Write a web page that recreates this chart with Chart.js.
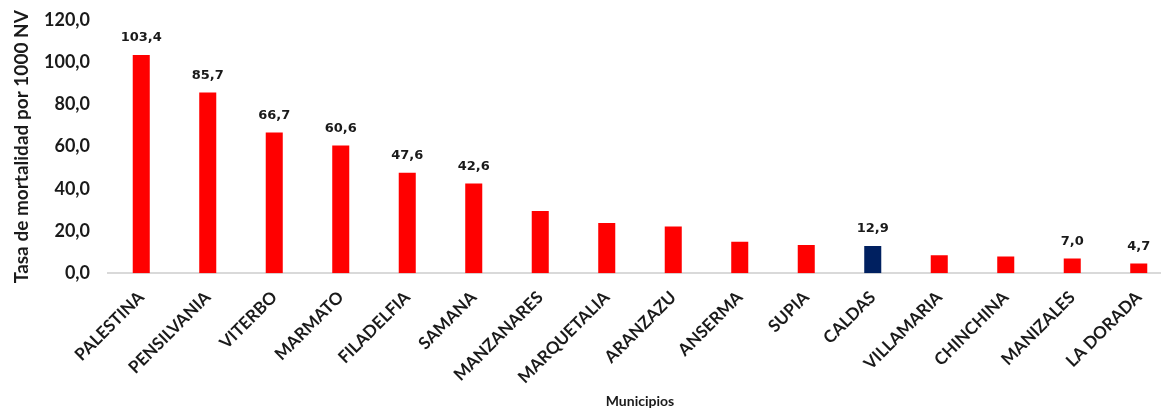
<!DOCTYPE html>
<html>
<head>
<meta charset="utf-8">
<script src="https://cdn.jsdelivr.net/npm/chart.js@4/dist/chart.umd.min.js"></script>
<style>
  html, body { margin: 0; padding: 0; background: #fff; overflow: hidden; }
  canvas { display: block; }
</style>
</head>
<body>
<canvas id="chart" width="1172" height="410"></canvas>
<script>
// Municipios y tasa de mortalidad por 1000 NV
var municipios = ['PALESTINA', 'PENSILVANIA', 'VITERBO', 'MARMATO', 'FILADELFIA', 'SAMANA',
    'MANZANARES', 'MARQUETALIA', 'ARANZAZU', 'ANSERMA', 'SUPIA', 'CALDAS',
    'VILLAMARIA', 'CHINCHINA', 'MANIZALES', 'LA DORADA'];
var tasas = [103.4, 85.7, 66.7, 60.6, 47.6, 42.6, 29.5, 23.8, 22.2, 14.9, 13.4, 12.9, 8.5, 8.0, 7.0, 4.7];
// solo algunas barras llevan etiqueta
var mostrarEtiqueta = [true, true, true, true, true, true, false, false, false, false, false, true, false, false, true, true];
var yTicks = [0, 20, 40, 60, 80, 100, 120];

function coma(v) {
    return v.toFixed(1).replace('.', ',');
}

var colores = municipios.map(function(m) {
    return m === 'CALDAS' ? '#002060' : '#ff0000';
});

var etiquetas = {
    id: 'etiquetas',
    afterDatasetsDraw: function(chart) {
        var ctx = chart.ctx;
        var meta = chart.getDatasetMeta(0);
        ctx.save();
        ctx.font = 'bold 13px "DejaVu Sans"';
        ctx.fillStyle = '#1a1a1a';
        ctx.textAlign = 'center';
        ctx.textBaseline = 'middle';
        meta.data.forEach(function(bar, i) {
            if (!mostrarEtiqueta[i]) return;
            ctx.fillText(coma(tasas[i]), bar.x, bar.y - 17);
        });
        ctx.restore();
    }
};

new Chart(document.getElementById('chart').getContext('2d'), {
    type: 'bar',
    data: {
        labels: municipios,
        datasets: [{
            data: tasas,
            backgroundColor: colores,
            borderWidth: 0,
            categoryPercentage: 1,
            barPercentage: 0.256
        }]
    },
    options: {
        responsive: false,
        animation: false,
        layout: { padding: { top: 20, left: 10, right: 0, bottom: 0 } },
        scales: {
            y: {
                min: 0,
                max: 120,
                afterBuildTicks: function(scale) {
                    scale.ticks = yTicks.map(function(v) { return { value: v }; });
                },
                afterFit: function(scale) {
                    scale.width = 98;
                    scale.paddingTop = 0;
                    scale.paddingBottom = 0;
                },
                grid: { display: false, drawTicks: false },
                border: { display: false },
                ticks: {
                    padding: 18,
                    color: '#1a1a1a',
                    font: { family: 'Lato', weight: 'bold', size: 18 },
                    callback: function(v) { return coma(v); }
                },
                title: {
                    display: true,
                    text: 'Tasa de mortalidad por 1000 NV',
                    color: '#1a1a1a',
                    font: { family: 'Lato', weight: 'bold', size: 19 },
                    padding: { top: 0, bottom: 1 }
                }
            },
            x: {
                afterFit: function(scale) { scale.height = 136.7; },
                grid: { display: false, drawTicks: false },
                border: { display: true, color: '#d9d9d9', width: 2 },
                ticks: {
                    minRotation: 45,
                    maxRotation: 45,
                    autoSkip: false,
                    padding: 14,
                    color: '#1a1a1a',
                    font: { family: 'Lato', weight: 'bold', size: 17 }
                },
                title: {
                    display: true,
                    text: 'Municipios',
                    color: '#1a1a1a',
                    font: { family: 'Lato', weight: 'bold', size: 14 },
                    padding: { top: 0, bottom: 0 }
                }
            }
        },
        plugins: {
            legend: { display: false },
            tooltip: { enabled: false }
        }
    },
    plugins: [etiquetas]
});
</script>
</body>
</html>
